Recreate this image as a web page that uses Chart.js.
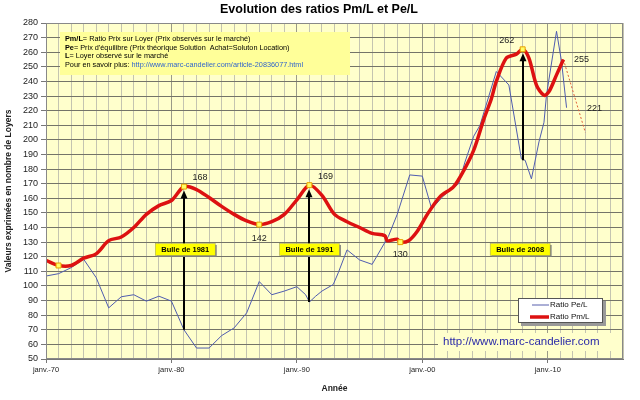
<!DOCTYPE html>
<html>
<head>
<meta charset="utf-8">
<script src="https://cdn.jsdelivr.net/npm/chart.js@4/dist/chart.umd.min.js"></script>
<style>
body { margin: 0; background: #fff; }
canvas { display: block; }
</style>
</head>
<body>
<canvas id="ratios" width="640" height="400"></canvas>
<script>
// Ratio Pm/L (prix observés / loyer)
var pmAnnees = [1970, 1971, 1972, 1973, 1974, 1975, 1976, 1977, 1978, 1979, 1980, 1981, 1982, 1983, 1984, 1985, 1986, 1987, 1988, 1989, 1990, 1991, 1992, 1993, 1994, 1995, 1996, 1997, 1997.2, 1997.6, 1998, 1998.25, 1998.9, 1999.6, 2000.4, 2001.4, 2002.5, 2003.3, 2004.1, 2004.9, 2005.5, 2005.9, 2006.7, 2007.5, 2008, 2008.5, 2009.1, 2009.7, 2010.1, 2010.7, 2011.25];
var pmValeurs = [117.5, 114, 114, 119, 122, 131, 133.5, 140, 149, 155, 158.5, 168, 166, 160.5, 154.5, 149, 144.5, 142, 144, 149, 159, 169, 162, 149, 144, 140, 136, 134.5, 131, 131.5, 132, 130, 131, 137.5, 149, 161, 168, 179, 193, 214, 228, 240, 256, 258.7, 262, 256, 237.5, 230.5, 233, 244.5, 255];

// Ratio Pe/L (prix d'équilibre / loyer)
var peAnnees = [1970, 1971, 1972, 1973, 1974, 1975, 1976, 1977, 1978, 1979, 1980, 1981, 1982, 1983, 1984, 1985, 1986, 1987, 1988, 1989, 1990, 1990.7, 1991, 1991.5, 1992, 1992.9, 1993.3, 1994, 1995, 1996, 1997.3, 1998, 1999, 2000, 2000.75, 2001.7, 2002.9, 2003.4, 2004.1, 2004.6, 2005.9, 2006.9, 2007.9, 2008.2, 2008.7, 2009.3, 2009.7, 2009.9, 2010.7, 2011.1, 2011.5];
var peValeurs = [106.8, 108.4, 112.5, 118.3, 105.7, 85, 92.6, 94, 89.6, 93, 89.6, 70, 57.5, 57.5, 66, 71.3, 81.6, 103, 94, 96.5, 99.5, 94, 89, 93, 96.5, 101, 109, 124.7, 117.8, 114.8, 134, 149, 176, 175.2, 152.7, 161.8, 170, 184.8, 202.5, 210, 246.8, 237.6, 187, 186, 173.3, 198.6, 212, 230.7, 274.3, 253.6, 222];

// projection en pointillés
var projAnnees = [2011.25, 2013];
var projValeurs = [255, 205];

var decennies = [1970, 1980, 1990, 2000, 2010];
var decennieLabels = ['janv.-70', 'janv.-80', 'janv.-90', 'janv.-00', 'janv.-10'];

// points repérés sur Pm/L
var repereAnnees = [1971, 1981, 1987, 1991, 1998.25, 2008];

var etiqAnnees = [1981, 1987, 1991, 1998.25, 2008, 2011.25, 2011.5];
var etiqValeurs = [168, 142, 169, 130, 262, 255, 221];
var etiqTextes = ['168', '142', '169', '130', '262', '255', '221'];

var bulleAnnees = [1981, 1991, 2008];
var bulleBas = [70, 89, 186];
var bulleHaut = [168, 169, 262];
var bulleTextes = ['Bulle de 1981', 'Bulle de 1991', 'Bulle de 2008'];
var bulleCentres = [1981.1, 1991, 2007.8];
var bulleNiveau = 125;

function points(xs, ys) {
    var p = [];
    for (var i = 0; i < xs.length; i++) p.push({x: xs[i], y: ys[i]});
    return p;
}

var FONT = 'Liberation Sans, Arial, sans-serif';
var FOND = '#ffffcc';

var decor = {
    id: 'decor',
    beforeDraw: function(chart) {
        var c = chart.ctx, a = chart.chartArea;
        c.save();
        c.fillStyle = FOND;
        c.fillRect(a.left, a.top, a.right - a.left, a.bottom - a.top);
        c.restore();
    },
    beforeDatasetsDraw: function(chart) {
        var c = chart.ctx, a = chart.chartArea;
        c.save();
        // zone de l'adresse, sans quadrillage
        c.fillStyle = FOND;
        c.fillRect(438, 333, a.right - 438 - 1, 18);
        // cadre d'information
        c.fillStyle = '#ffff99';
        c.fillRect(60, 32, 290, 43);
        c.restore();
    },
    afterDatasetsDraw: function(chart) {
        var c = chart.ctx, a = chart.chartArea;
        var sx = chart.scales.x, sy = chart.scales.y;
        c.save();
        c.strokeStyle = '#888';
        c.lineWidth = 1;
        c.strokeRect(a.left + 0.5, a.top + 0.5, a.right - a.left - 1, a.bottom - a.top - 1);

        // flèches
        for (var i = 0; i < bulleAnnees.length; i++) {
            var x = Math.round(sx.getPixelForValue(bulleAnnees[i]));
            var y0 = sy.getPixelForValue(bulleBas[i]);
            var y1 = sy.getPixelForValue(bulleHaut[i]) + 4;
            c.strokeStyle = '#000';
            c.lineWidth = 2;
            c.beginPath();
            c.moveTo(x, y0);
            c.lineTo(x, y1 + 6);
            c.stroke();
            c.fillStyle = '#000';
            c.beginPath();
            c.moveTo(x, y1);
            c.lineTo(x - 3.5, y1 + 8);
            c.lineTo(x + 3.5, y1 + 8);
            c.closePath();
            c.fill();
        }

        // étiquettes des bulles
        c.font = 'bold 7.5px ' + FONT;
        c.textAlign = 'center';
        c.textBaseline = 'middle';
        for (var j = 0; j < bulleTextes.length; j++) {
            var bx = sx.getPixelForValue(bulleCentres[j]);
            var by = sy.getPixelForValue(bulleNiveau);
            var w = c.measureText(bulleTextes[j]).width + 12;
            c.fillStyle = '#808080';
            c.fillRect(bx - w / 2 + 1.5, by - 6 + 1.5, w, 12);
            c.fillStyle = '#ffff00';
            c.fillRect(bx - w / 2, by - 6, w, 12);
            c.strokeStyle = '#999966';
            c.lineWidth = 0.5;
            c.strokeRect(bx - w / 2, by - 6, w, 12);
            c.fillStyle = '#000';
            c.fillText(bulleTextes[j], bx, by + 0.5);
        }

        // valeurs
        var dx = [16, 0, 16, 0, -16, 18, 28];
        var dy = [-9, 14, -9, 12, -9, 0, -1];
        c.font = '9px ' + FONT;
        c.fillStyle = '#222';
        for (var k = 0; k < etiqTextes.length; k++) {
            c.fillText(etiqTextes[k], sx.getPixelForValue(etiqAnnees[k]) + dx[k], sy.getPixelForValue(etiqValeurs[k]) + dy[k]);
        }

        // texte du cadre
        c.textAlign = 'left';
        var lignes = [
            ['Pm/L', '= Ratio Prix sur Loyer (Prix observés sur le marché)'],
            ['Pe', '= Prix d\'équilibre (Prix théorique Solution  Achat=Soluton Location)'],
            ['L', '= Loyer observé sur le marché']
        ];
        var ly = 39;
        for (var m = 0; m < lignes.length; m++) {
            c.font = 'bold 7.3px ' + FONT;
            c.fillStyle = '#000';
            c.fillText(lignes[m][0], 65, ly);
            var wb = c.measureText(lignes[m][0]).width;
            c.font = '7.3px ' + FONT;
            c.fillText(lignes[m][1], 65 + wb, ly);
            ly += 8.5;
        }
        c.font = '7.3px ' + FONT;
        c.fillText('Pour en savoir plus: ', 65, ly);
        var wp = c.measureText('Pour en savoir plus: ').width;
        c.fillStyle = '#3366cc';
        c.fillText('http://www.marc-candelier.com/article-20836077.html', 65 + wp, ly);

        // adresse du site
        c.font = '11.5px ' + FONT;
        c.fillStyle = '#2b2ba8';
        c.fillText('http://www.marc-candelier.com', 443, 342);

        // légende
        c.fillStyle = '#999';
        c.fillRect(521, 301, 85, 25);
        c.fillStyle = '#fff';
        c.fillRect(518, 298, 85, 25);
        c.strokeStyle = '#555';
        c.lineWidth = 1;
        c.strokeRect(518.5, 298.5, 84, 24);
        c.strokeStyle = '#8f95c8';
        c.lineWidth = 1.5;
        c.beginPath(); c.moveTo(532, 305); c.lineTo(549, 305); c.stroke();
        c.strokeStyle = '#dd1111';
        c.lineWidth = 3.5;
        c.beginPath(); c.moveTo(530, 317); c.lineTo(549, 317); c.stroke();
        c.font = '8px ' + FONT;
        c.fillStyle = '#111';
        c.fillText('Ratio Pe/L', 550, 305);
        c.fillText('Ratio Pm/L', 550, 317);

        // titre
        c.font = 'bold 12.5px ' + FONT;
        c.textAlign = 'center';
        c.fillStyle = '#000';
        c.fillText('Evolution des ratios Pm/L et Pe/L', 319, 10);
        c.restore();
    }
};

var ctx = document.getElementById('ratios').getContext('2d');
var config = {
    type: 'line',
    data: {
        datasets: [{
            label: 'Ratio Pm/L',
            data: points(pmAnnees, pmValeurs),
            borderColor: '#dd1111',
            borderWidth: 3.5,
            tension: 0.3,
            pointStyle: 'rect',
            pointRadius: function(c) { return repereAnnees.indexOf(pmAnnees[c.dataIndex]) >= 0 ? 3.5 : 0; },
            pointBackgroundColor: '#ffff66',
            pointBorderColor: '#e8a000',
            pointBorderWidth: 1,
            order: 1
        }, {
            label: 'Ratio Pe/L',
            data: points(peAnnees, peValeurs),
            borderColor: '#4f5cb0',
            borderWidth: 1,
            tension: 0,
            pointRadius: 0,
            order: 2
        }, {
            label: 'projection',
            data: points(projAnnees, projValeurs),
            borderColor: '#e0603a',
            borderWidth: 1,
            borderDash: [2, 2],
            pointRadius: 0,
            order: 3
        }]
    },
    options: {
        responsive: false,
        animation: false,
        devicePixelRatio: 1,
        layout: { padding: { top: 23, right: 17, left: 0, bottom: 0 } },
        plugins: { legend: { display: false }, tooltip: { enabled: false } },
        scales: {
            x: {
                type: 'linear',
                min: 1970,
                max: 2016,
                afterFit: function(s) { s.height = 41; },
                afterBuildTicks: function(s) {
                    var t = [];
                    for (var a = 1970; a <= 2016; a++) t.push({value: a});
                    s.ticks = t;
                },
                ticks: {
                    autoSkip: false,
                    maxRotation: 0,
                    padding: 2,
                    color: '#222',
                    font: { family: FONT, size: 7.5 },
                    callback: function(v) {
                        var i = decennies.indexOf(v);
                        return i >= 0 ? decennieLabels[i] : '';
                    }
                },
                grid: {
                    color: function(c) { return c.tick && c.tick.value % 10 === 0 ? '#9a9a88' : '#c4c4b0'; },
                    tickColor: function(c) { return c.tick && c.tick.value % 10 === 0 ? '#777' : 'rgba(0,0,0,0)'; },
                    tickLength: 4,
                    lineWidth: 1
                },
                border: { color: '#777' },
                title: {
                    display: true,
                    text: 'Année',
                    color: '#222',
                    font: { family: FONT, size: 8.5, weight: 'bold' },
                    padding: { top: 6, bottom: 6 }
                }
            },
            y: {
                min: 50,
                max: 280,
                afterFit: function(s) { s.width = 46; },
                ticks: {
                    stepSize: 10,
                    padding: 3,
                    color: '#222',
                    font: { family: FONT, size: 9 }
                },
                grid: {
                    color: '#747468',
                    tickColor: '#777',
                    tickLength: 5
                },
                border: { color: '#777' },
                title: {
                    display: true,
                    text: 'Valeurs exprimées en nombre de Loyers',
                    color: '#222',
                    font: { family: FONT, size: 8.5, weight: 'bold' },
                    padding: { top: 4, bottom: 0 }
                }
            }
        }
    },
    plugins: [decor]
};
var graphique = new Chart(ctx, config);
</script>
</body>
</html>
